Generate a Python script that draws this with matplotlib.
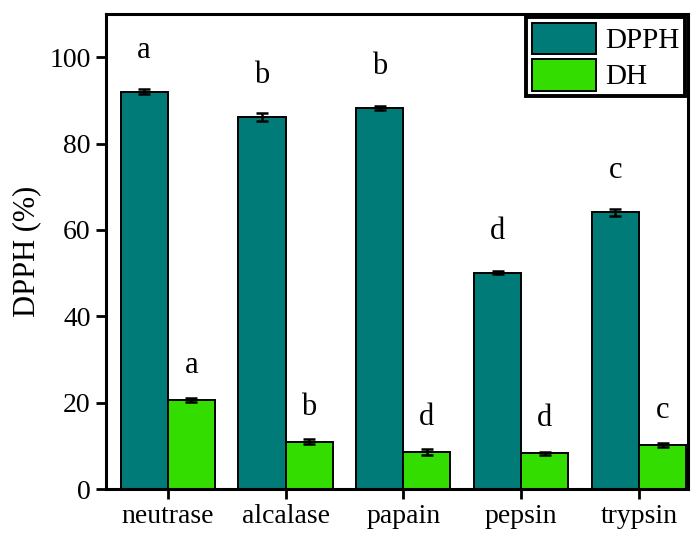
import matplotlib
matplotlib.use("Agg")
import matplotlib.pyplot as plt
import numpy as np

enzymes = ["neutrase", "alcalase", "papain", "pepsin", "trypsin"]
dpph = [92.0, 86.1, 88.2, 50.1, 64.1]
dpph_err = [0.6, 1.0, 0.5, 0.4, 0.8]
dh = [20.6, 11.0, 8.7, 8.3, 10.2]
dh_err = [0.4, 0.5, 0.7, 0.4, 0.5]
dpph_letters = ["a", "b", "b", "d", "c"]
dh_letters = ["a", "b", "d", "d", "c"]

plt.rcParams["font.family"] = ["Liberation Serif", "DejaVu Serif"]

fig = plt.figure(figsize=(6.92, 5.34), dpi=100)
ax = fig.add_axes([0.153, 0.084, 0.841, 0.890])

x = np.arange(len(enzymes))
w = 0.4
ax.bar(x - w / 2, dpph, w, color="#007b78", edgecolor="black", linewidth=1.4,
       label="DPPH", yerr=dpph_err, capsize=4.5,
       error_kw=dict(elinewidth=1.8, capthick=1.8, ecolor="black"))
ax.bar(x + w / 2, dh, w, color="#33dd00", edgecolor="black", linewidth=1.4,
       label="DH", yerr=dh_err, capsize=4.5,
       error_kw=dict(elinewidth=1.8, capthick=1.8, ecolor="black"))

for i in range(len(enzymes)):
    ax.text(x[i] - w / 2, dpph[i] + 7.8, dpph_letters[i], ha="center",
            va="baseline", fontsize=22)
    ax.text(x[i] + w / 2, dh[i] + 6.2, dh_letters[i], ha="center",
            va="baseline", fontsize=22)

ax.set_xlim(-0.525, 4.415)
ax.set_ylim(0, 110)
ax.set_yticks([0, 20, 40, 60, 80, 100])
ax.set_xticks(x)
ax.set_xticklabels(enzymes)
ax.set_ylabel("DPPH (%)", fontsize=22, labelpad=6)
ax.tick_params(axis="both", direction="out", length=7, width=2)
ax.tick_params(axis="y", labelsize=20, pad=4)
ax.tick_params(axis="x", labelsize=20, pad=4)
for s in ax.spines.values():
    s.set_linewidth(2.2)

leg = ax.legend(loc="upper right", fontsize=21, frameon=True, fancybox=False,
                framealpha=1, borderaxespad=0.1, handlelength=2.2,
                handleheight=1.3, handletextpad=0.3, borderpad=0.2,
                labelspacing=0.15)
leg.get_frame().set_edgecolor("black")
leg.get_frame().set_linewidth(2.8)

fig.savefig("out.png", dpi=100)
